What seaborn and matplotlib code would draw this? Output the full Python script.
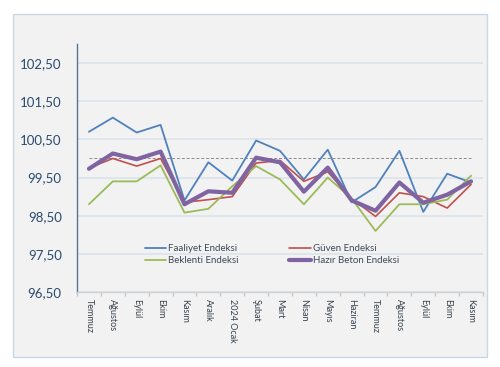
import numpy as np
import pandas as pd
import matplotlib

matplotlib.use("Agg")
import matplotlib.pyplot as plt
from matplotlib.patches import Rectangle
import seaborn as sns


# =============================================================================
# DATOS
# =============================================================================
aylar = [
    "Temmuz", "Ağustos", "Eylül", "Ekim", "Kasım", "Aralık", "2024 Ocak",
    "Şubat", "Mart", "Nisan", "Mayıs", "Haziran", "Temmuz", "Ağustos",
    "Eylül", "Ekim", "Kasım",
]

faaliyet = [100.70, 101.07, 100.68, 100.88, 98.90, 99.90, 99.42, 100.47, 100.20,
            99.45, 100.23, 98.85, 99.25, 100.20, 98.60, 99.60, 99.37]
guven = [99.75, 100.00, 99.80, 100.00, 98.85, 98.92, 99.00, 99.88, 99.95,
         99.40, 99.65, 98.95, 98.48, 99.10, 99.00, 98.70, 99.32]
beklenti = [98.80, 99.40, 99.40, 99.82, 98.58, 98.68, 99.27, 99.80, 99.45,
            98.80, 99.50, 98.95, 98.10, 98.80, 98.80, 98.92, 99.55]
hazir_beton = [99.73, 100.13, 99.98, 100.18, 98.80, 99.14, 99.10, 100.02, 99.90,
               99.13, 99.76, 98.90, 98.63, 99.37, 98.84, 99.05, 99.40]
referans = [100.0] * len(aylar)

y_ticks = [96.5, 97.5, 98.5, 99.5, 100.5, 101.5, 102.5]


# =============================================================================
# GRAFICO
# =============================================================================
def armar_df():

    pos = np.arange(len(aylar))

    return pd.DataFrame(
        {
            "pos": pos,
            "ay": aylar,
            "Faaliyet Endeksi": faaliyet,
            "Güven Endeksi": guven,
            "Beklenti Endeksi": beklenti,
            "Hazır Beton Endeksi": hazir_beton,
            "ref": referans,
        }
    )


def dibujar(df):

    sns.set_theme(style="white")
    plt.rcParams["font.family"] = ["Lato", "DejaVu Sans"]

    fig = plt.figure(figsize=(5.0, 3.67), dpi=100, facecolor="white")

    # area del grafico con borde
    fig.patches.append(
        Rectangle(
            (13 / 500, 1 - 357 / 367), 474 / 500, 343 / 367,
            transform=fig.transFigure, facecolor="#F2F2F2",
            edgecolor="#C9D7E6", linewidth=1.0, zorder=-10,
        )
    )

    ax = fig.add_axes([77 / 500, 1 - 292 / 367, 406 / 500, 248 / 367])
    ax.set_zorder(5)
    ax.set_facecolor("#F2F2F2")

    for y in y_ticks:
        ax.axhline(y, color="#DCE3EC", linewidth=1.2, zorder=1)

    sns.lineplot(data=df, x="pos", y="ref", ax=ax, color="#8C8C8C",
                 linewidth=0.7, linestyle=(0, (3, 2)), zorder=2)

    series = [
        ("Faaliyet Endeksi", "#4F81BD", 1.3),
        ("Güven Endeksi", "#C0504D", 1.2),
        ("Beklenti Endeksi", "#9BBB59", 1.3),
        ("Hazır Beton Endeksi", "#8064A2", 3.0),
    ]

    for nombre, color, lw in series:
        sns.lineplot(data=df, x="pos", y=nombre, ax=ax, color=color,
                     linewidth=lw, label=nombre, zorder=3)

    ax.set_xlim(-0.5, len(aylar) - 0.5)
    ax.set_ylim(96.5, 103.0)
    ax.set_yticks(y_ticks)
    ax.set_yticklabels([f"{v:.2f}".replace(".", ",") for v in y_ticks],
                       fontsize=9.5, color="#2B4A6E")

    ax.set_xticks(df["pos"])
    ax.set_xticklabels(aylar, rotation=270, fontsize=6.5, color="#34424F")
    ax.set_xticks(np.arange(len(aylar) + 1) - 0.5, minor=True)
    ax.tick_params(axis="x", which="major", length=0, pad=5)
    ax.tick_params(axis="x", which="minor", length=3, color="#C8C8C8",
                   direction="out", bottom=True)
    ax.tick_params(axis="y", length=0, pad=11)

    ax.set_xlabel("")
    ax.set_ylabel("")

    for lado in ["top", "right"]:
        ax.spines[lado].set_visible(False)
    ax.spines["left"].set_color("#5A7394")
    ax.spines["left"].set_linewidth(1.0)
    ax.spines["bottom"].set_color("#D0D0D0")
    ax.spines["bottom"].set_linewidth(1.0)

    # orden por filas como en el original
    handles, labels = ax.get_legend_handles_labels()
    orden = [0, 2, 1, 3]
    leg = ax.legend(
        [handles[i] for i in orden], [labels[i] for i in orden],
        ncol=2, loc="center", bbox_to_anchor=(0.48, 0.151), frameon=False,
        fontsize=7, handlelength=2.2, handletextpad=0.2, columnspacing=5.2,
        labelspacing=0.3,
    )
    for t in leg.get_texts():
        t.set_color("#3C4A5A")

    fig.savefig("out.png", dpi=100, facecolor="white")
    plt.close(fig)


# =============================================================================
# EJECUCION
# =============================================================================
if __name__ == "__main__":

    dibujar(armar_df())
